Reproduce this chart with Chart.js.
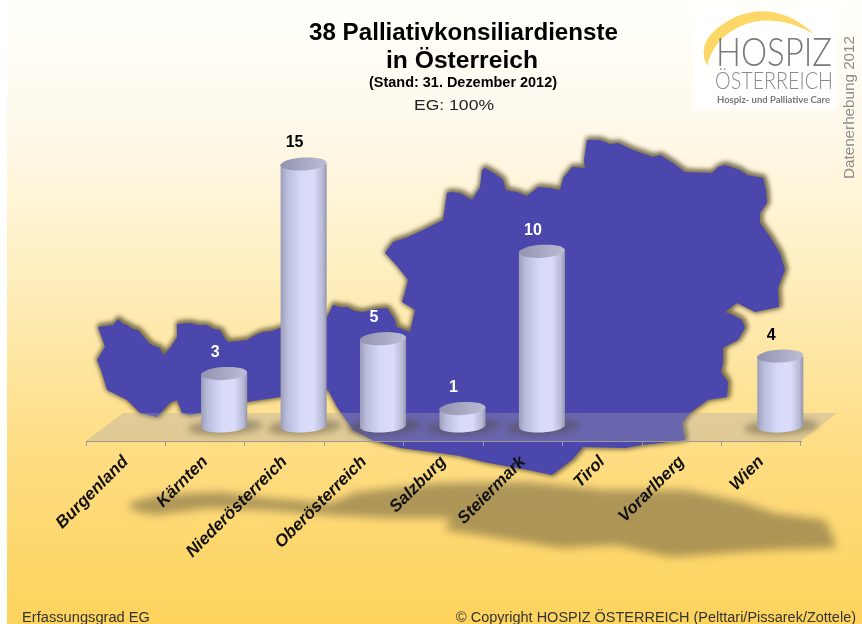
<!DOCTYPE html>
<html><head><meta charset="utf-8">
<style>html,body{margin:0;padding:0;background:#fff;overflow:hidden}canvas{display:block}</style>
<script src="https://cdn.jsdelivr.net/npm/chart.js@4"></script>
</head><body><canvas id="c" width="862" height="624"></canvas>
<script>
const categories=["Burgenland","Kärnten","Niederösterreich","Oberösterreich","Salzburg","Steiermark","Tirol","Vorarlberg","Wien"];
const values=[0,3,15,5,1,10,0,0,4];
const labelColors=["#000","#fff","#000","#fff","#fff","#fff","#000","#000","#000"];
const titleLines=["38 Palliativkonsiliardienste","in Österreich"];
const subtitle="(Stand: 31. Dezember 2012)";
const coverage="EG: 100%";
const footerLeft="Erfassungsgrad EG";
const footerRight="© Copyright HOSPIZ ÖSTERREICH (Pelttari/Pissarek/Zottele)";
const sideText="Datenerhebung 2012";
// decorative outline of Austria behind the chart
const mapOutline=[[98,327],[113,325],[118,319],[122,323],[127,325],[133,329],[138,330],[142,335],[145,338],[149,343],[152,345],[160,348],[163,355],[170,348],[174,342],[177,337],[177,324],[190,323],[198,325],[207,325],[214,329],[220,330],[224,337],[228,342],[238,341],[247,340],[255,335],[263,332],[272,331],[280,328],[300,325],[327,317],[333,305],[340,307],[347,307],[355,311],[363,312],[375,309],[387,308],[392,315],[395,320],[397,327],[410,332],[415,310],[402,302],[405,292],[408,280],[397,266],[385,253],[393,242],[408,237],[423,230],[443,220],[447,193],[450,192],[460,193],[472,200],[480,187],[482,170],[485,168],[497,175],[503,180],[506,190],[517,192],[527,196],[538,187],[550,188],[560,190],[563,178],[572,167],[585,168],[584,160],[587,140],[600,140],[610,144],[618,143],[633,150],[653,157],[660,155],[673,163],[685,172],[712,173],[718,167],[725,165],[740,170],[747,175],[763,178],[766,190],[767,203],[760,213],[760,223],[770,237],[775,245],[780,253],[785,270],[778,288],[779,307],[755,312],[747,308],[737,303],[725,312],[733,315],[742,320],[745,328],[738,340],[723,348],[723,363],[721,372],[728,382],[727,397],[708,400],[690,413],[682,423],[685,440],[660,443],[642,445],[625,448],[583,447],[572,460],[552,475],[528,470],[505,466],[484,462],[460,456],[440,453],[401,448],[374,441],[353,430],[337,407],[328,390],[280,397],[247,402],[200,413],[190,415],[182,413],[177,400],[170,403],[157,417],[140,413],[127,400],[107,390],[102,373],[97,360],[105,347]];
const mapShadow=[[129,503],[159,495],[220,492],[264,498],[330,503],[357,492],[440,483],[528,482],[605,490],[687,490],[742,502],[775,513],[825,520],[833,537],[836,548],[770,550],[671,557],[616,545],[561,548],[511,540],[445,530],[451,518],[385,518],[330,515],[264,510],[209,508],[154,515],[132,510]];

function tracePoly(ctx,pts){ctx.beginPath();pts.forEach((p,i)=>i?ctx.lineTo(p[0],p[1]):ctx.moveTo(p[0],p[1]));ctx.closePath();}
function fitText(ctx,txt,x,y,w,align){const m=ctx.measureText(txt).width;ctx.save();ctx.translate(x,y);ctx.scale(w/m,1);ctx.textAlign=align||'left';ctx.fillText(txt,0,0);ctx.restore();}
function bodyGradient(ctx,cx,hw){const g=ctx.createLinearGradient(cx-hw,0,cx+hw,0);
 g.addColorStop(0,'#9c9eba');g.addColorStop(.14,'#babcdc');g.addColorStop(.45,'#d8daf9');g.addColorStop(.72,'#dadcfa');g.addColorStop(.92,'#b6b8d4');g.addColorStop(1,'#9395ae');return g;}
const DX=19,DY=-15,RY=6.5,TILT=-0.055;

const backdrop={id:'backdrop',beforeDraw(chart){const c=chart.ctx,W=chart.width,H=chart.height;c.save();
 c.fillStyle='#fff';c.fillRect(0,0,W,H);
 const g=c.createLinearGradient(0,0,0,H);g.addColorStop(0,'#fffffb');g.addColorStop(.2,'#fff9ec');g.addColorStop(.45,'#feeebd');g.addColorStop(.7,'#fede87');g.addColorStop(1,'#fdd35c');
 c.fillStyle=g;c.fillRect(7,0,W-7,H);
 // ground shadow
 c.save();c.filter='blur(4px)';c.fillStyle='rgba(115,100,65,.58)';tracePoly(c,mapShadow);c.fill();c.restore();
 // map halo, then map
 c.save();c.filter='blur(2.5px)';c.translate(1,-1);c.fillStyle=c.strokeStyle='rgba(95,85,50,.85)';c.lineWidth=4;c.lineJoin='round';tracePoly(c,mapOutline);c.fill();c.stroke();c.restore();
 c.fillStyle='#4b47ad';tracePoly(c,mapOutline);c.fill();
 // floor
 const a=chart.chartArea;c.fillStyle='rgba(166,163,175,.34)';c.beginPath();c.moveTo(a.left,a.bottom);c.lineTo(a.right,a.bottom);c.lineTo(a.right+36,a.bottom-28);c.lineTo(a.left+37,a.bottom-28);c.closePath();c.fill();
 // logo panel
 c.save();c.filter='blur(2px)';c.fillStyle='rgba(255,255,255,.9)';c.fillRect(693,10,144,100);c.restore();
 c.fillStyle='#fdd869';c.beginPath();c.moveTo(707,66);c.quadraticCurveTo(693,38,735,17);c.quadraticCurveTo(777,0,814,34);c.quadraticCurveTo(775,12,741,26);c.quadraticCurveTo(714,38,707,66);c.closePath();c.fill();
 c.fillStyle='#77797b';c.textBaseline='alphabetic';
 c.font='300 39px Lato, "Liberation Sans"';fitText(c,'HOSPIZ',716,66,116);
 c.fillStyle='#8a8c8e';c.font='300 24px Lato, "Liberation Sans"';fitText(c,'ÖSTERREICH',715,89,118);
 c.fillStyle='#777';c.font='bold 10px Lato, "Liberation Sans"';fitText(c,'Hospiz- und Palliative Care',717,103,113);
 c.restore();
}};
const cylinders={id:'cylinders',
 beforeDatasetsDraw(chart){const c=chart.ctx,meta=chart.getDatasetMeta(0);c.save();c.translate(DX,DY);
  meta.data.forEach((b,i)=>{if(!values[i])return;const hw=b.width/2;
   c.save();c.filter='blur(3px)';c.fillStyle='rgba(75,68,50,.4)';c.beginPath();c.ellipse(b.x+1,b.base+1,hw+14,8,TILT,0,7);c.fill();c.restore();
   c.fillStyle=bodyGradient(c,b.x,hw);c.beginPath();c.ellipse(b.x,b.base,hw,RY,TILT,0,7);c.fill();});},
 afterDatasetsDraw(chart){const c=chart.ctx,meta=chart.getDatasetMeta(0);
  meta.data.forEach((b,i)=>{if(!values[i])return;const hw=b.width/2;
   const g=c.createLinearGradient(b.x-hw,0,b.x+hw,0);g.addColorStop(0,'#9294b0');g.addColorStop(1,'#bcbdd5');
   c.fillStyle=g;c.beginPath();c.ellipse(b.x,b.y,hw,RY,TILT,0,7);c.fill();});
  c.restore();
  c.save();c.font='bold 16px "Liberation Sans"';c.textAlign='center';c.textBaseline='middle';
  meta.data.forEach((b,i)=>{if(!values[i])return;c.fillStyle=labelColors[i];c.fillText(values[i],b.x+10,b.y+DY-21);});
  c.restore();}
};
const annotations={id:'annotations',afterDraw(chart){const c=chart.ctx;c.save();c.fillStyle='#000';c.textBaseline='alphabetic';
 c.font='bold 23.5px "Liberation Sans"';fitText(c,titleLines[0],309,40,309);fitText(c,titleLines[1],386,68,152);
 c.font='bold 14.5px "Liberation Sans"';fitText(c,subtitle,369,87,188);
 c.font='14.5px "Liberation Sans"';c.fillStyle='#222';fitText(c,coverage,414,110,80);
 c.fillStyle='#333';c.font='15.5px "Liberation Sans"';fitText(c,footerLeft,22,622,128);fitText(c,footerRight,456,622,400);
 c.save();c.translate(854,179);c.rotate(-Math.PI/2);c.fillStyle='#8d8d8d';c.font='14.5px "Liberation Sans"';fitText(c,sideText,0,0,143);c.restore();
 c.restore();}};

new Chart(document.getElementById('c'),{type:'bar',
 data:{labels:categories,datasets:[{data:values,clip:false,borderWidth:0,barPercentage:.58,categoryPercentage:1,
  backgroundColor(ctx){const ch=ctx.chart,sx=ch.scales.x;const cx=sx?sx.getPixelForValue(ctx.dataIndex):NaN;if(!isFinite(cx))return '#c8caea';return bodyGradient(ch.ctx,cx,23);}}]},
 options:{responsive:false,animation:false,events:[],
  layout:{padding:{left:86,right:61,top:179,bottom:0}},
  plugins:{legend:{display:false},tooltip:{enabled:false},title:{display:false}},
  scales:{
   x:{grid:{drawOnChartArea:false,drawTicks:true,tickLength:5,color:'#9b9a96',offset:true},border:{color:'#9b9a96',width:1},
    afterFit(s){s.height=183;s.paddingLeft=0;s.paddingRight=0;},
    ticks:{maxRotation:45,minRotation:45,autoSkip:false,color:'#111',padding:6,font:{family:'"Liberation Sans"',size:17,weight:'bold',style:'italic'}}},
   y:{display:false,min:0,max:15}
  }},
 plugins:[backdrop,cylinders,annotations]});
</script></body></html>
